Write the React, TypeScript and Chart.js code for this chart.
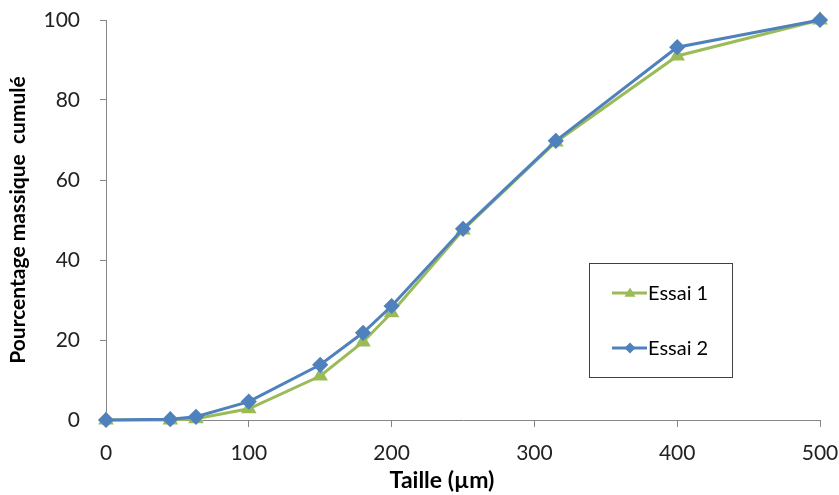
import React, { useEffect, useRef } from "react";
import { Chart, registerables } from "chart.js";

Chart.register(...registerables);

const sizes = [0, 45, 63, 100, 150, 180, 200, 250, 315, 400, 500];
const essai1 = [0, 0, 0.3, 2.8, 11, 19.5, 26.8, 47.5, 69.5, 91, 100];
const essai2 = [0, 0.2, 0.8, 4.6, 13.8, 21.8, 28.5, 47.8, 69.8, 93.2, 100];
const seriesNames = ["Essai 1", "Essai 2"];
const xTitle = "Taille (µm)";
const yTitle = "Pourcentage massique  cumulé";

const GREEN = "#9BBB59";
const BLUE = "#4F81BD";
const FONT = "Lato, 'Open Sans', sans-serif";

const overlayPlugin = {
  id: "overlay",
  afterDraw(chart: any) {
    const { ctx } = chart;
    ctx.save();
    // axis titles
    ctx.fillStyle = "#000";
    ctx.font = `bold 23px ${FONT}`;
    ctx.textAlign = "center";
    ctx.textBaseline = "middle";
    ctx.fillText(xTitle, 442, 481);
    ctx.save();
    ctx.translate(18, 220);
    ctx.rotate(-Math.PI / 2);
    ctx.font = `bold 21px ${FONT}`;
    ctx.fillText(yTitle, 0, 0);
    ctx.restore();

    // legend box
    const bx = 589, by = 263, bw = 143, bh = 114;
    ctx.strokeStyle = "#404040";
    ctx.lineWidth = 1;
    ctx.strokeRect(bx + 0.5, by + 0.5, bw, bh);
    const rows = [293, 348];
    chart.data.datasets.forEach((ds: any, i: number) => {
      const y = rows[i];
      ctx.strokeStyle = ds.borderColor;
      ctx.lineWidth = 3;
      ctx.beginPath();
      ctx.moveTo(612, y);
      ctx.lineTo(647, y);
      ctx.stroke();
      // marker
      ctx.fillStyle = ds.backgroundColor;
      ctx.beginPath();
      const cx = 630;
      const r = 5.5;
      if (ds.pointStyle === "triangle") {
        ctx.moveTo(cx, y - r);
        ctx.lineTo(cx + r, y + r * 0.7);
        ctx.lineTo(cx - r, y + r * 0.7);
      } else {
        ctx.moveTo(cx, y - r);
        ctx.lineTo(cx + r, y);
        ctx.lineTo(cx, y + r);
        ctx.lineTo(cx - r, y);
      }
      ctx.closePath();
      ctx.fill();
      ctx.fillStyle = "#000";
      ctx.font = `20px ${FONT}`;
      ctx.textAlign = "left";
      ctx.textBaseline = "middle";
      ctx.fillText(ds.label, 648, y + 1);
    });
    ctx.restore();
  },
};

export default function App() {
  const ref = useRef<HTMLCanvasElement>(null);
  useEffect(() => {
    document.body.style.margin = "0";
    const canvas = ref.current!;
    const mk = (ys: number[]) => sizes.map((x, i) => ({ x, y: ys[i] }));
    const chart = new Chart(canvas, {
      type: "line",
      data: {
        datasets: [
          {
            label: seriesNames[0],
            data: mk(essai1),
            borderColor: GREEN,
            backgroundColor: GREEN,
            pointBackgroundColor: GREEN,
            pointBorderColor: GREEN,
            pointStyle: "triangle",
            pointRadius: 6,
            borderWidth: 3,
            tension: 0,
            order: 1,
          },
          {
            label: seriesNames[1],
            data: mk(essai2),
            borderColor: BLUE,
            backgroundColor: BLUE,
            pointBackgroundColor: BLUE,
            pointBorderColor: BLUE,
            pointStyle: "rectRot",
            pointRadius: 6,
            borderWidth: 3,
            tension: 0,
            order: 0,
          },
        ],
      },
      options: {
        animation: false,
        responsive: false,
        maintainAspectRatio: false,
        clip: false,
        layout: { autoPadding: false, padding: { left: 0, right: 19, top: 20, bottom: 0 } },
        plugins: {
          legend: { display: false },
          tooltip: { enabled: false },
        },
        scales: {
          x: {
            type: "linear",
            min: 0,
            max: 500,
            afterFit: (s: any) => { s.height = 75; s.paddingLeft = 0; s.paddingRight = 0; },
            ticks: {
              stepSize: 100,
              color: "#222",
              font: { family: FONT, size: 21 },
              padding: 14,
              maxRotation: 0,
            },
            grid: {
              drawOnChartArea: false,
              drawTicks: true,
              tickLength: 7,
              color: "#868686",
            },
            border: { color: "#868686", width: 1 },
          },
          y: {
            type: "linear",
            min: 0,
            max: 100,
            afterFit: (s: any) => { s.width = 106; s.paddingTop = 0; s.paddingBottom = 0; },
            ticks: {
              stepSize: 20,
              color: "#222",
              font: { family: FONT, size: 21 },
              padding: 20,
            },
            grid: {
              drawOnChartArea: false,
              drawTicks: true,
              tickLength: 6,
              color: "#868686",
            },
            border: { color: "#868686", width: 1 },
          },
        },
      },
      plugins: [overlayPlugin],
    } as any);
    return () => chart.destroy();
  }, []);
  return (
    <div style={{ position: "absolute", left: 0, top: 0, width: 839, height: 495, background: "#fff" }}>
      <canvas ref={ref} width={839} height={495} style={{ width: 839, height: 495 }} />
    </div>
  );
}
